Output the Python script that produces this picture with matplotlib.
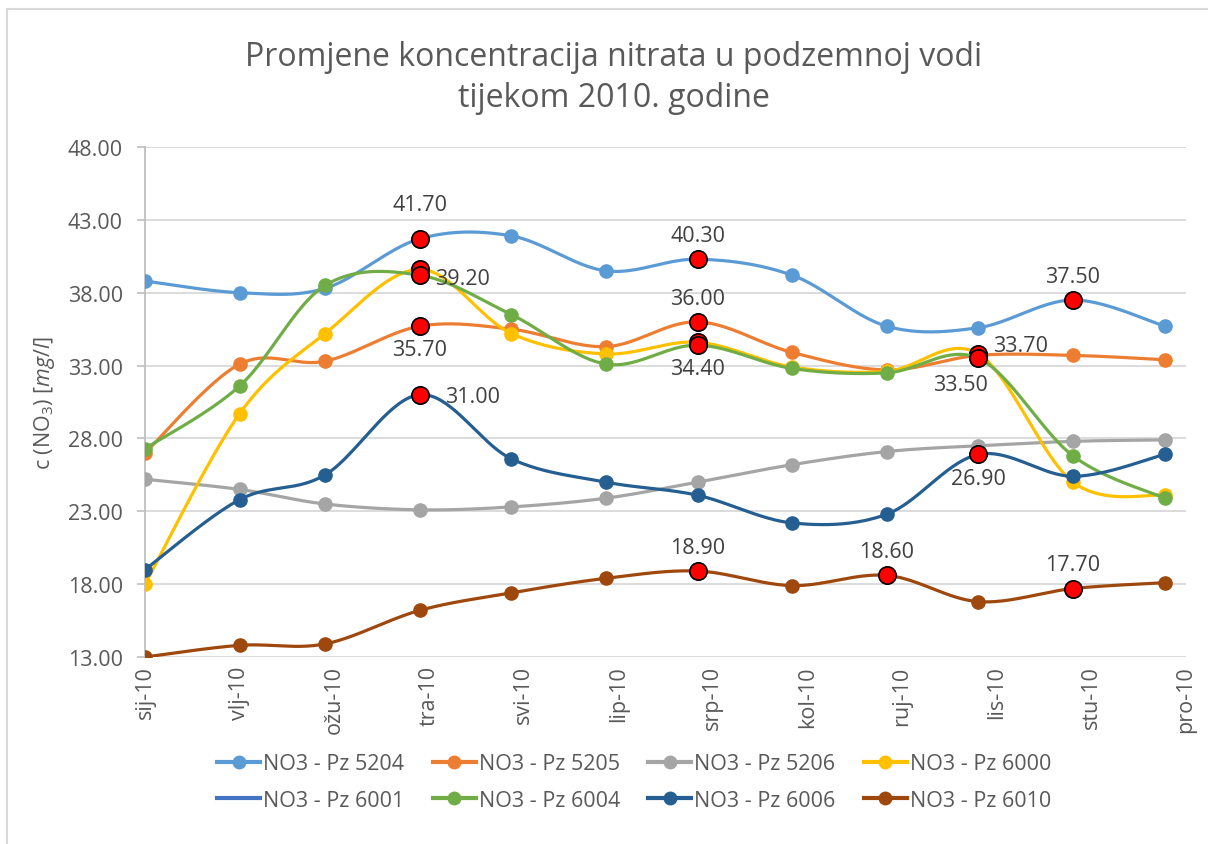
import numpy as np
import pandas as pd
import matplotlib
matplotlib.use("Agg")
import matplotlib.pyplot as plt
from matplotlib.lines import Line2D
from matplotlib.patches import Rectangle

# ---------------- data ----------------
months = ['sij-10', 'vlj-10', 'ožu-10', 'tra-10', 'svi-10', 'lip-10',
          'srp-10', 'kol-10', 'ruj-10', 'lis-10', 'stu-10', 'pro-10']
dates = pd.date_range('2010-01-01', periods=12, freq='MS')

series_names = ['NO3 - Pz 5204', 'NO3 - Pz 5205', 'NO3 - Pz 5206', 'NO3 - Pz 6000',
                'NO3 - Pz 6001', 'NO3 - Pz 6004', 'NO3 - Pz 6006', 'NO3 - Pz 6010']

pz5204 = [38.8, 38.0, 38.3, 41.7, 41.9, 39.5, 40.3, 39.2, 35.7, 35.6, 37.5, 35.7]
pz5205 = [27.0, 33.1, 33.3, 35.7, 35.5, 34.3, 36.0, 33.9, 32.7, 33.7, 33.7, 33.4]
pz5206 = [25.2, 24.5, 23.5, 23.1, 23.3, 23.9, 25.0, 26.2, 27.1, 27.5, 27.8, 27.9]
pz6000 = [18.0, 29.7, 35.2, 39.6, 35.2, 33.8, 34.6, 32.9, 32.6, 33.8, 25.0, 24.1]
pz6001 = [np.nan] * 12
pz6004 = [27.3, 31.6, 38.5, 39.2, 36.5, 33.1, 34.4, 32.8, 32.5, 33.5, 26.8, 23.9]
pz6006 = [19.0, 23.8, 25.5, 31.0, 26.6, 25.0, 24.1, 22.2, 22.8, 26.9, 25.4, 26.9]
pz6010 = [13.0, 13.8, 13.9, 16.2, 17.4, 18.4, 18.9, 17.9, 18.6, 16.8, 17.7, 18.1]

# highlighted (red) points: index lists and which of them carry a label
hl_5204 = [3, 6, 10]
hl_5205 = [3, 6, 9]
hl_5206 = []
hl_6000 = [3, 6, 9]
hl_6001 = []
hl_6004 = [3, 6, 9]
hl_6006 = [3, 9]
hl_6010 = [6, 8, 10]

lbl_5204 = {3: 'above_hi', 6: 'above', 10: 'above'}
lbl_5205 = {3: 'below', 6: 'above', 9: 'right_up'}
lbl_5206 = {}
lbl_6000 = {}
lbl_6001 = {}
lbl_6004 = {3: 'right', 6: 'below', 9: 'below_left'}
lbl_6006 = {3: 'right_far', 9: 'below'}
lbl_6010 = {6: 'above', 8: 'above', 10: 'above'}

yticks = [13, 18, 23, 28, 33, 38, 43, 48]

# ---------------- styling ----------------
colors = ['#5B9BD5', '#ED7D31', '#A5A5A5', '#FFC000',
          '#4472C4', '#70AD47', '#255E91', '#9E480E']
txt_col = '#595959'
grid_col = '#D9D9D9'
FONT = 'Open Sans'
FS = 15.5

plt.rcParams['font.family'] = [FONT, 'DejaVu Sans']
plt.rcParams['mathtext.fontset'] = 'custom'
plt.rcParams['mathtext.rm'] = FONT
plt.rcParams['mathtext.it'] = FONT + ':italic'

offsets = {  # in points (dx, dy)
    'above': (0, 17), 'above_hi': (0, 25), 'below': (0, -17),
    'right': (31, -2), 'right_far': (38, -1), 'right_up': (30, 7),
    'below_left': (-13, -19),
}

x = (dates - dates[0]).days.values.astype(float)


def smooth(xs, ys, n=40):
    xs = np.asarray(xs, float)
    ys = np.asarray(ys, float)
    P = np.column_stack([xs, ys])
    out = []
    m = len(P)
    for i in range(m - 1):
        p0 = P[i - 1] if i > 0 else P[i]
        p1 = P[i]
        p2 = P[i + 1]
        p3 = P[i + 2] if i + 2 < m else P[i + 1]
        c1 = p1 + (p2 - p0) / 6.0
        c2 = p2 - (p3 - p1) / 6.0
        t = np.linspace(0, 1, n)[:, None]
        seg = ((1 - t) ** 3) * p1 + 3 * ((1 - t) ** 2) * t * c1 + 3 * (1 - t) * t ** 2 * c2 + t ** 3 * p2
        out.append(seg if i == 0 else seg[1:])
    s = np.vstack(out)
    return s[:, 0], s[:, 1]


W, H = 1208, 845
fig = plt.figure(figsize=(W / 100, H / 100), dpi=100)
fig.patch.set_facecolor('white')

# chart border
fig.add_artist(Rectangle((7 / W, -0.01), 1.02, 1 - 9.5 / H + 0.01, transform=fig.transFigure,
                         fill=False, edgecolor='#D9D9D9', linewidth=1.5))

L, R, T, B = 145, 1186, 148, 658
ax = fig.add_axes([L / W, 1 - B / H, (R - L) / W, (B - T) / H])

all_series = [pz5204, pz5205, pz5206, pz6000, pz6001, pz6004, pz6006, pz6010]
all_hl = [hl_5204, hl_5205, hl_5206, hl_6000, hl_6001, hl_6004, hl_6006, hl_6010]
all_lbl = [lbl_5204, lbl_5205, lbl_5206, lbl_6000, lbl_6001, lbl_6004, lbl_6006, lbl_6010]

handles = []
for k, (vals, col, name, hl, lbl) in enumerate(zip(all_series, colors, series_names, all_hl, all_lbl)):
    z = 3 + k
    v = np.asarray(vals, float)
    has_marker = name != 'NO3 - Pz 6001'
    if np.all(np.isnan(v)):
        handles.append(Line2D([], [], color=col, lw=3, label=name))
        continue
    sx, sy = smooth(x, v)
    ax.plot(sx, sy, color=col, lw=2.3, zorder=z, solid_capstyle='round')
    ax.plot(x, v, 'o', color=col, ms=9.5, mec=col, zorder=z + 0.1)
    if hl:
        ax.plot(x[hl], v[hl], 'o', color='#FF0000', ms=12.5, mec='black', mew=1.2, zorder=z + 0.2)
    for idx, pos in lbl.items():
        dx, dy = offsets[pos]
        ax.annotate(f'{v[idx]:.2f}', (x[idx], v[idx]), xytext=(dx, dy), textcoords='offset points',
                    ha='center', va='center', fontsize=FS, color='#404040', zorder=20)
    handles.append(Line2D([], [], color=col, lw=3, marker='o' if has_marker else None,
                          ms=9, label=name))

ax.set_ylim(13, 48)
ax.set_yticks(yticks)
ax.set_yticklabels([f'{t:.2f}' for t in yticks])
ax.set_xlim(0, 341)
ax.set_xticks(np.linspace(0, 341, len(months)))
ax.set_xticklabels(months, rotation=90)

ax.grid(axis='y', color=grid_col, lw=1.3, zorder=0)
ax.set_axisbelow(True)
for s in ['top', 'right', 'bottom']:
    ax.spines[s].set_visible(False)
ax.spines['left'].set_color('#BFBFBF')
ax.spines['left'].set_linewidth(1.3)
ax.tick_params(axis='y', colors='#BFBFBF', length=6, width=1.2, labelcolor=txt_col, labelsize=FS, pad=10)
ax.tick_params(axis='x', length=0, labelcolor=txt_col, labelsize=FS, pad=6)

ax.set_ylabel(r'c (NO$_3$) [$\mathit{mg/l}$]', fontsize=FS, color=txt_col, labelpad=8)

fig.text(0.508, 1 - 78 / H, 'Promjene koncentracija nitrata u podzemnoj vodi\ntijekom 2010. godine',
         ha='center', va='center', fontsize=23, color=txt_col, linespacing=1.3)

# legend filled row by row (4 columns, 2 rows)
order = [0, 4, 1, 5, 2, 6, 3, 7]
leg = fig.legend(handles=[handles[i] for i in order], loc='center', bbox_to_anchor=(0.525, 1 - 783 / H), ncol=4,
                 frameon=False, fontsize=FS, handlelength=2.0, handletextpad=0.15,
                 columnspacing=1.3, labelspacing=0.7)
for t in leg.get_texts():
    t.set_color(txt_col)

fig.savefig('out.png', dpi=100, facecolor='white')
